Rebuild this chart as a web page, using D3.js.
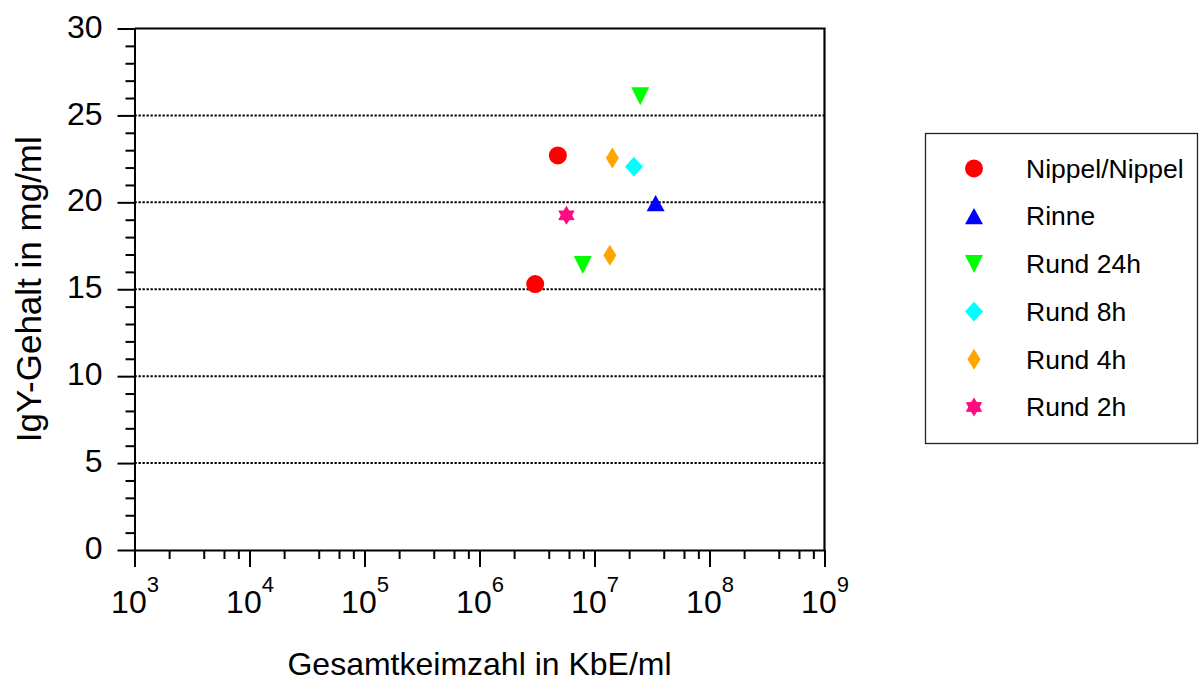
<!DOCTYPE html>
<html>
<head>
<meta charset="utf-8">
<script src="https://cdn.jsdelivr.net/npm/d3@7"></script>
<style>
  html, body { margin: 0; padding: 0; background: #fff; }
  svg { display: block; }
  text { font-family: "Liberation Sans", Arial, sans-serif; fill: #000; }
</style>
</head>
<body>
<svg id="chart" width="1199" height="682"></svg>
<script>
// Series: total bacterial count (KbE/ml) vs. IgY content (mg/ml)
const seriesNames = ["Nippel/Nippel", "Rinne", "Rund 24h", "Rund 8h", "Rund 4h", "Rund 2h"];
const seriesColors = ["#ff0000", "#0000ff", "#00ff00", "#00ffff", "#ffa500", "#ff0a80"];

const nippelX = [3.05e6, 4.8e6];
const nippelY = [15.3, 22.7];
const rinneX = [3.4e7];
const rinneY = [19.95];
const rund24X = [7.9e6, 2.5e7];
const rund24Y = [16.4, 26.1];
const rund8X = [2.2e7];
const rund8Y = [22.05];
const rund4X = [1.36e7, 1.43e7];
const rund4Y = [16.95, 22.55];
const rund2X = [5.7e6];
const rund2Y = [19.25];

const xExponents = [3, 4, 5, 6, 7, 8, 9];
const xMinorFactors = [2, 4, 6, 8];
const yTicks = [0, 5, 10, 15, 20, 25, 30];
const yGrid = [5, 10, 15, 20, 25];

const xTitle = "Gesamtkeimzahl in KbE/ml";
const yTitle = "IgY-Gehalt in mg/ml";

// Marker shapes as d3 symbol types; r is half the nominal extent
const triUp = { draw(ctx, size) { const r = Math.sqrt(size) / 2;
  ctx.moveTo(0, -0.9 * r); ctx.lineTo(r, 0.9 * r); ctx.lineTo(-r, 0.9 * r); ctx.closePath(); } };
const triDown = { draw(ctx, size) { const r = Math.sqrt(size) / 2;
  ctx.moveTo(0, r); ctx.lineTo(r, -r); ctx.lineTo(-r, -r); ctx.closePath(); } };
const diamond = { draw(ctx, size) { const r = Math.sqrt(size) / 2;
  ctx.moveTo(0, -1.1 * r); ctx.lineTo(r, 0); ctx.lineTo(0, 1.1 * r); ctx.lineTo(-r, 0); ctx.closePath(); } };
const thinDiamond = { draw(ctx, size) { const r = Math.sqrt(size) / 2;
  ctx.moveTo(0, -r); ctx.lineTo(0.62 * r, 0); ctx.lineTo(0, r); ctx.lineTo(-0.62 * r, 0); ctx.closePath(); } };
const star6 = { draw(ctx, size) { const R = Math.sqrt(size) / 2, ri = R * 0.6;
  for (let i = 0; i < 12; i++) {
    const a = -Math.PI / 2 + i * Math.PI / 6, rr = i % 2 === 0 ? R : ri;
    const px = rr * Math.cos(a), py = rr * Math.sin(a);
    if (i === 0) ctx.moveTo(px, py); else ctx.lineTo(px, py);
  }
  ctx.closePath(); } };

const seriesShapes = [d3.symbolCircle, triUp, triDown, diamond, thinDiamond, star6];
const seriesSizes = [Math.PI * 81, 324, 324, 324, 441, 361];

const seriesData = [
  [nippelX, nippelY], [rinneX, rinneY], [rund24X, rund24Y],
  [rund8X, rund8Y], [rund4X, rund4Y], [rund2X, rund2Y]
];

const plotLeft = 134.5, plotRight = 824.5, plotTop = 28.5, plotBottom = 550;

const x = d3.scaleLog().domain([1e3, 1e9]).range([plotLeft, plotRight]);
const y = d3.scaleLinear().domain([0, 30]).range([plotBottom, plotTop]);

const svg = d3.select("#chart");

// Dotted horizontal grid lines
svg.append("g").selectAll("line").data(yGrid).join("line")
  .attr("x1", plotLeft).attr("x2", plotRight)
  .attr("y1", d => y(d)).attr("y2", d => y(d))
  .attr("stroke", "#000").attr("stroke-width", 2)
  .attr("stroke-dasharray", "2.3,1.7");

// X axis: major decades and minor ticks at 2,4,6,8
const xMajor = xExponents.map(e => Math.pow(10, e));
const xMinor = [];
xExponents.slice(0, -1).forEach(e => xMinorFactors.forEach(f => xMinor.push(f * Math.pow(10, e))));

const xAxisG = svg.append("g").attr("transform", `translate(0,${plotBottom})`);
xAxisG.call(d3.axisBottom(x).tickValues(xMajor).tickSize(17).tickSizeOuter(0).tickFormat(() => ""));
const xMajorTexts = xAxisG.selectAll(".tick text");
xAxisG.append("g").call(d3.axisBottom(x).tickValues(xMinor).tickSize(9).tickSizeOuter(0).tickFormat(() => ""))
  .call(g => g.select(".domain").remove())
  .call(g => g.selectAll("text").remove());
xAxisG.selectAll("path, line").attr("stroke", "#000").attr("stroke-width", 2);

xMajorTexts.each(function (d) {
  const t = d3.select(this).attr("y", 63).attr("dy", null)
    .attr("font-size", 32).attr("text-anchor", "middle");
  t.append("tspan").text("10");
  t.append("tspan").attr("font-size", 22).attr("dy", -21).text(Math.round(Math.log10(d)));
});

// Y axis with unit minor ticks
const yMinor = d3.range(0, 31).filter(v => v % 5 !== 0);
const yAxisG = svg.append("g").attr("transform", `translate(${plotLeft},0)`);
yAxisG.call(d3.axisLeft(y).tickValues(yTicks).tickSize(17).tickPadding(15).tickSizeOuter(0));
yAxisG.selectAll(".tick text").attr("font-size", 32).attr("dy", "0.27em")
  .style("font-family", "'Liberation Sans', Arial, sans-serif");
yAxisG.append("g").call(d3.axisLeft(y).tickValues(yMinor).tickSize(9).tickSizeOuter(0).tickFormat(() => ""))
  .call(g => g.select(".domain").remove())
  .call(g => g.selectAll("text").remove());
yAxisG.selectAll("path, line").attr("stroke", "#000").attr("stroke-width", 2);

// Frame: top and right edges
svg.append("path")
  .attr("d", `M${plotLeft},${plotTop}H${plotRight}V${plotBottom}`)
  .attr("fill", "none").attr("stroke", "#000").attr("stroke-width", 2.2);

// Axis titles
svg.append("text").attr("x", (plotLeft + plotRight) / 2).attr("y", 675)
  .attr("text-anchor", "middle").attr("font-size", 32).text(xTitle);
svg.append("text").attr("transform", `translate(41,${(plotTop + plotBottom) / 2}) rotate(-90)`)
  .attr("text-anchor", "middle").attr("font-size", 35).text(yTitle);

// Data markers
seriesData.forEach(([xs, ys], i) => {
  const sym = d3.symbol().type(seriesShapes[i]).size(seriesSizes[i]);
  svg.append("g").selectAll("path").data(xs.map((v, j) => [v, ys[j]])).join("path")
    .attr("transform", d => `translate(${x(d[0])},${y(d[1])})`)
    .attr("d", sym)
    .attr("fill", seriesColors[i]);
});

// Legend
const legend = svg.append("g");
legend.append("rect").attr("x", 925.5).attr("y", 133.5).attr("width", 272).attr("height", 310)
  .attr("fill", "#fff").attr("stroke", "#222").attr("stroke-width", 1.3);
const legendY = d3.scalePoint().domain(seriesNames).range([168.5, 407]);
seriesNames.forEach((name, i) => {
  const cy = legendY(name);
  legend.append("path")
    .attr("transform", `translate(974,${cy})`)
    .attr("d", d3.symbol().type(seriesShapes[i]).size(seriesSizes[i])())
    .attr("fill", seriesColors[i]);
  legend.append("text").attr("x", 1026).attr("y", cy).attr("dy", "0.35em")
    .attr("font-size", 26.5).text(name);
});
</script>
</body>
</html>
